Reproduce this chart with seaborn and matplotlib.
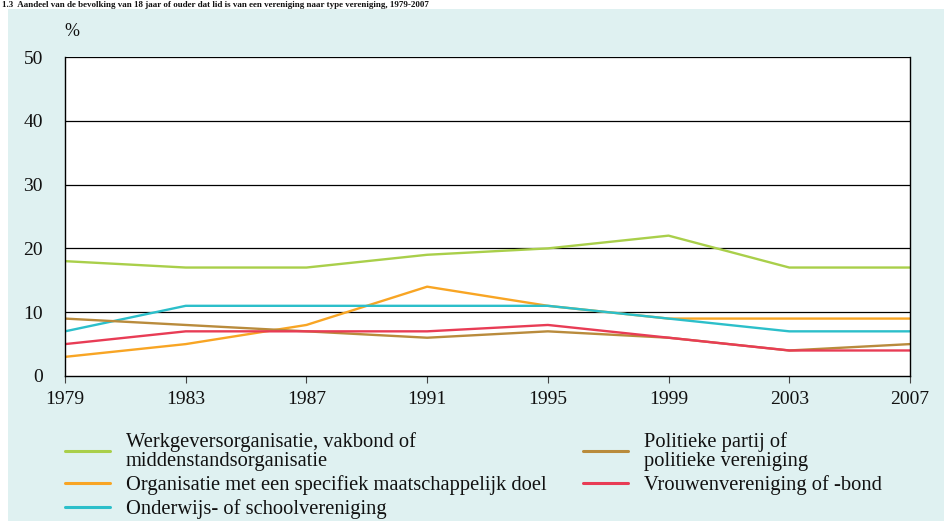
import matplotlib
matplotlib.use("Agg")
import matplotlib.pyplot as plt
import seaborn as sns
import pandas as pd
from matplotlib.lines import Line2D

years = [1979, 1983, 1987, 1991, 1995, 1999, 2003, 2007]
werkgever = [18, 17, 17, 19, 20, 22, 17, 17]
maatschappelijk = [3, 5, 8, 14, 11, 9, 9, 9]
onderwijs = [7, 11, 11, 11, 11, 9, 7, 7]
politiek = [9, 8, 7, 6, 7, 6, 4, 5]
vrouwen = [5, 7, 7, 7, 8, 6, 4, 4]

labels = [
    "Werkgeversorganisatie, vakbond of\nmiddenstandsorganisatie",
    "Organisatie met een specifiek maatschappelijk doel",
    "Onderwijs- of schoolvereniging",
    "Politieke partij of\npolitieke vereniging",
    "Vrouwenvereniging of -bond",
]
series = [werkgever, maatschappelijk, onderwijs, politiek, vrouwen]
colors = ["#a9cf4a", "#f8a524", "#2cbfca", "#b98b3c", "#e83c55"]
yticks = [0, 10, 20, 30, 40, 50]

title = ("1.3  Aandeel van de bevolking van 18 jaar of ouder dat lid is van een "
         "vereniging naar type vereniging, 1979-2007")

rows = []
for lab, vals in zip(labels, series):
    for y, v in zip(years, vals):
        rows.append({"jaar": y, "waarde": v, "type": lab})
df = pd.DataFrame(rows)

sns.set_theme(style="white")
plt.rcParams["font.family"] = ["Liberation Serif", "DejaVu Serif"]

W, H = 945, 521
fig = plt.figure(figsize=(W / 100, H / 100), dpi=100)
fig.patch.set_facecolor("white")

bg = "#dff1f1"
fig.patches.append(plt.Rectangle((8 / W, 0), 1, 1 - 9 / H, transform=fig.transFigure,
                                 facecolor=bg, edgecolor="none", zorder=-10))

ax = fig.add_axes([65 / W, 1 - 376 / H, (910 - 65) / W, (376 - 57) / H])
ax.set_facecolor("white")

sns.lineplot(data=df, x="jaar", y="waarde", hue="type", palette=dict(zip(labels, colors)),
             hue_order=labels, ax=ax, linewidth=1.7, legend=False)

ax.set_xlim(years[0], years[-1])
ax.set_ylim(0, 50)
ax.set_xticks(years)
ax.set_xticklabels([str(y) for y in years])
ax.set_yticks(yticks)
ax.set_yticklabels([str(t) for t in yticks])
ax.set_xlabel("")
ax.set_ylabel("")
for t in yticks[1:]:
    ax.axhline(t, color="black", linewidth=0.9, zorder=0)
for s in ["left", "right", "bottom"]:
    ax.spines[s].set_visible(True)
    ax.spines[s].set_color("black")
    ax.spines[s].set_linewidth(1.0)
ax.spines["top"].set_visible(False)
ax.tick_params(axis="x", bottom=True, length=5, width=0.8, color="#444444",
               labelsize=14, pad=6, labelcolor="#111111")
ax.tick_params(axis="y", left=False, labelsize=14, pad=10, labelcolor="#111111")

fig.text(72 / W, 1 - 32 / H, "%", fontsize=13, color="#111111", va="center", ha="center")

fig.text(2 / W, 1 - 7 / H, title, fontsize=6.5, fontweight="bold", color="#111111",
         va="baseline", ha="left")

handles = [Line2D([], [], color=c, linewidth=2.2) for c in colors]
leg = fig.legend(handles, labels, loc="upper left", bbox_to_anchor=(65 / W, 1 - 432 / H),
                 ncol=2, frameon=False, fontsize=14.8, borderpad=0, handlelength=2.2,
                 handletextpad=0.75, columnspacing=1.8, labelspacing=0.2, borderaxespad=0)
for t in leg.get_texts():
    t.set_color("#111111")
    t.set_linespacing(1.02)

fig.savefig("out.png", dpi=100, facecolor=fig.get_facecolor())
